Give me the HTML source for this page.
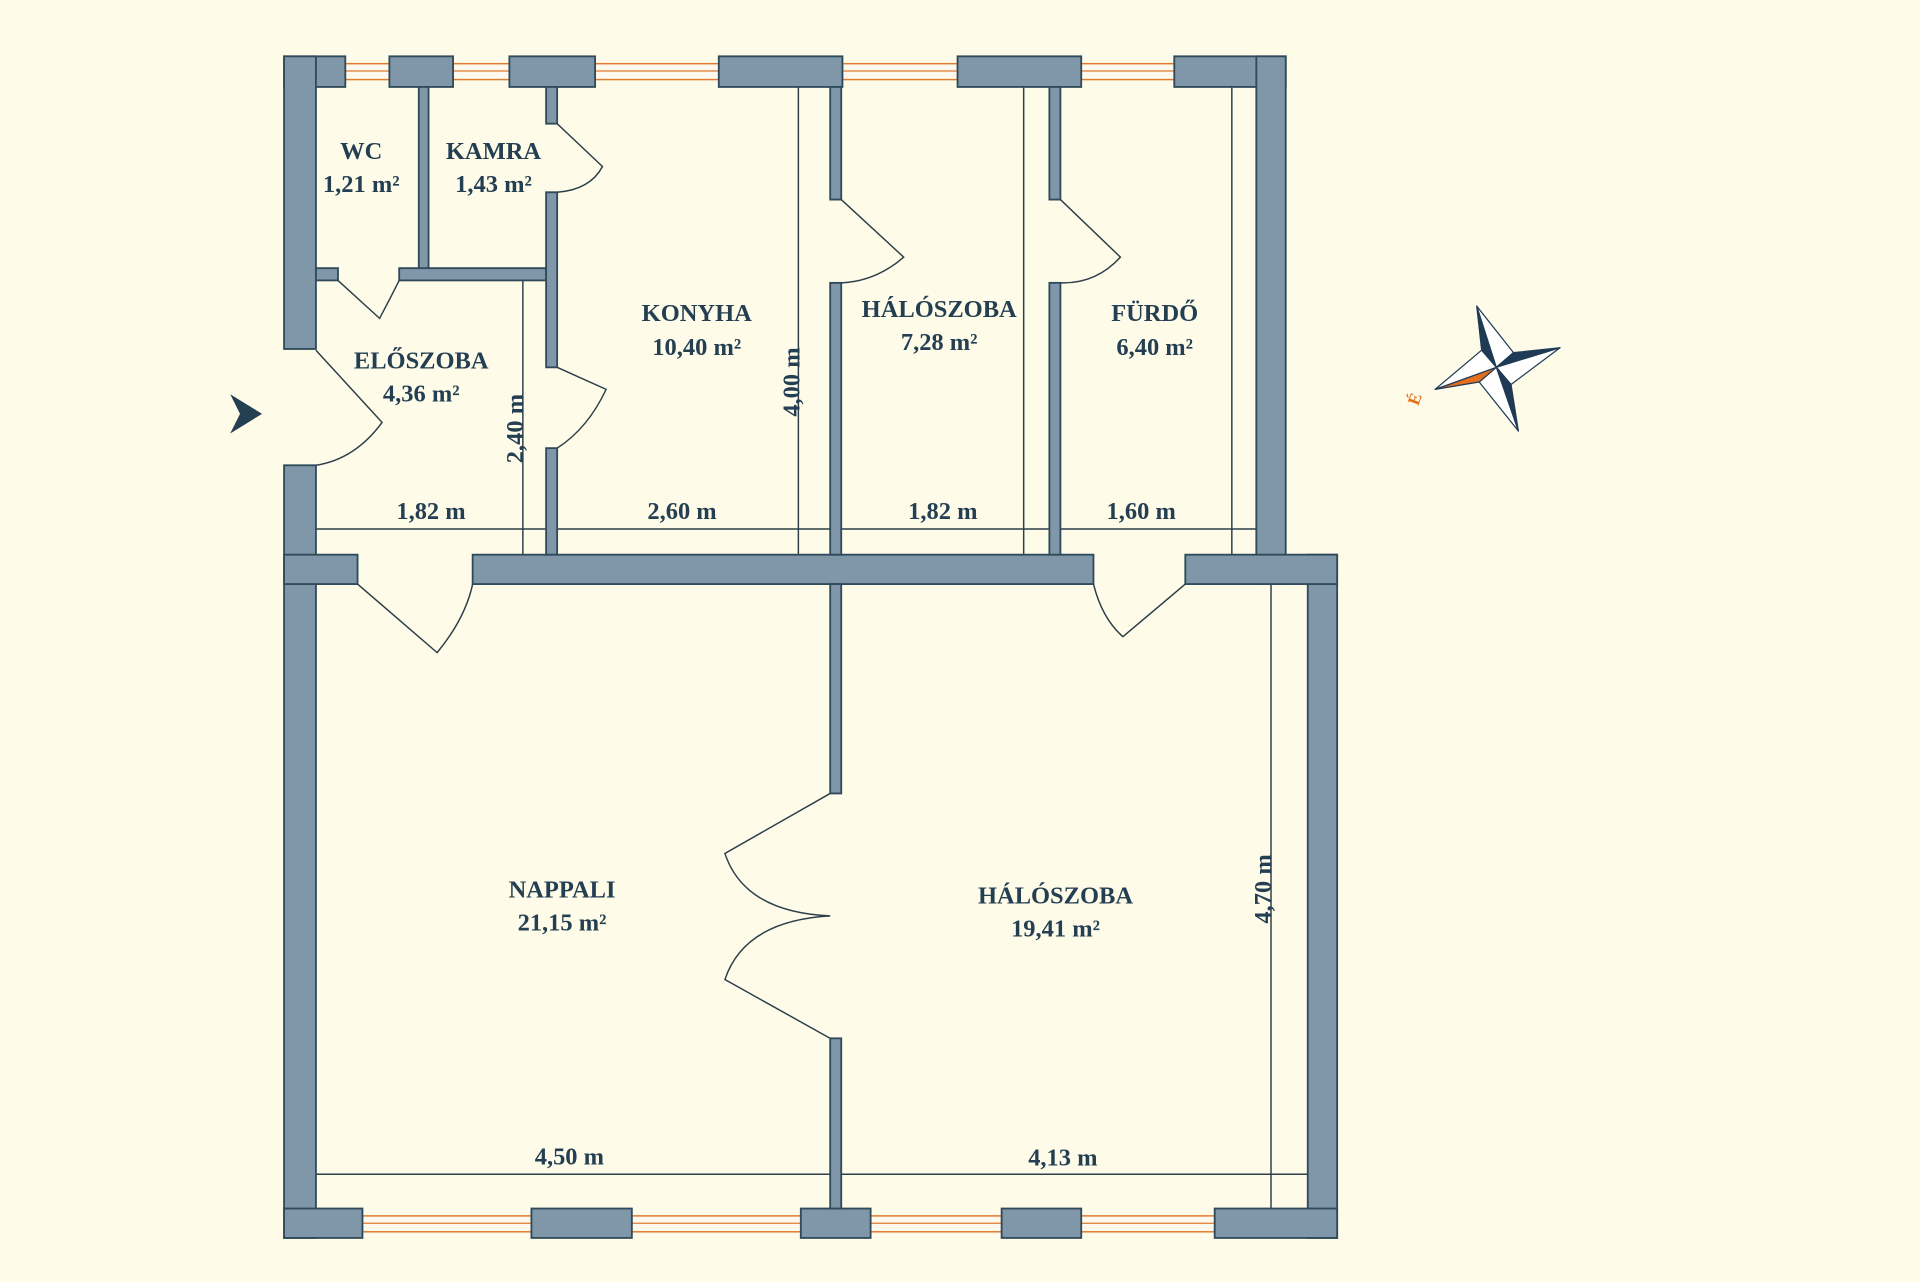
<!DOCTYPE html>
<html><head><meta charset="utf-8"><style>
html,body{margin:0;padding:0;background:#fefbe9;}
svg{display:block}
text{font-family:"Liberation Serif",serif;font-weight:bold;fill:#243f52;font-size:20px;text-anchor:middle}
.w{fill:#7f97a8;stroke:#2f4a5a;stroke-width:1.5}
.d{fill:none;stroke:#2c3f4a;stroke-width:1.2}
.win{fill:#fff8ec;stroke:#e07a2e;stroke-width:1.2}
</style></head><body>
<svg width="1920" height="1282" viewBox="0 0 1568 1047" preserveAspectRatio="none">
<rect width="1568" height="1047" fill="#fefbe9"/>
<g class="win">
<rect x="282" y="52" width="36" height="13"/><rect x="370" y="52" width="46" height="13"/><rect x="486" y="52" width="101" height="13"/><rect x="688" y="52" width="94" height="13"/><rect x="883" y="52" width="76" height="13"/>
<rect x="296" y="993" width="138" height="13"/><rect x="516" y="993" width="138" height="13"/><rect x="711" y="993" width="107" height="13"/><rect x="883" y="993" width="109" height="13"/>
</g>
<g stroke="#e07a2e" stroke-width="1">
<line x1="282" y1="58" x2="959" y2="58"/><line x1="296" y1="999" x2="992" y2="999"/>
</g>
<g stroke="#2c3f4a" stroke-width="1.2">
<line x1="258" y1="432" x2="1026" y2="432"/>
<line x1="427" y1="229" x2="427" y2="453"/>
<line x1="652" y1="71" x2="652" y2="453"/>
<line x1="836" y1="71" x2="836" y2="453"/>
<line x1="1006" y1="71" x2="1006" y2="453"/>
<line x1="1038" y1="477" x2="1038" y2="987"/>
<line x1="258" y1="959" x2="1068" y2="959"/>
</g>
<g class="w">
<rect x="232" y="46" width="50" height="25"/><rect x="318" y="46" width="52" height="25"/><rect x="416" y="46" width="70" height="25"/><rect x="587" y="46" width="101" height="25"/><rect x="782" y="46" width="101" height="25"/><rect x="959" y="46" width="91" height="25"/>
<rect x="232" y="46" width="26" height="239"/><rect x="232" y="380" width="26" height="631"/>
<rect x="1026" y="46" width="24" height="431"/>
<rect x="1068" y="453" width="24" height="558"/>
<rect x="232" y="987" width="64" height="24"/><rect x="434" y="987" width="82" height="24"/><rect x="654" y="987" width="57" height="24"/><rect x="818" y="987" width="65" height="24"/><rect x="992" y="987" width="100" height="24"/>
<rect x="232" y="453" width="60" height="24"/><rect x="386" y="453" width="507" height="24"/><rect x="968" y="453" width="124" height="24"/>
<rect x="678" y="71" width="9" height="92"/><rect x="678" y="231" width="9" height="222"/>
<rect x="678" y="477" width="9" height="171"/><rect x="678" y="848" width="9" height="139"/>
<rect x="857" y="71" width="9" height="92"/><rect x="857" y="231" width="9" height="222"/>
<rect x="342" y="71" width="8" height="150"/>
<rect x="326" y="219" width="120" height="10"/><rect x="258" y="219" width="18" height="10"/>
<rect x="446" y="71" width="9" height="30"/><rect x="446" y="157" width="9" height="143"/><rect x="446" y="366" width="9" height="87"/>
</g>
<g class="d">
<path d="M455 101 L492 136 Q482 155 455 157"/>
<path d="M455 300 L495 318 Q480 350 455 366"/>
<path d="M276 229 L310 260 Q318 245 326 229"/>
<path d="M258 286 L312 345 Q290 375 258 380"/>
<path d="M292 477 L357 533 Q380 505 386 477"/>
<path d="M687 163 L738 210 Q715 230 687 231"/>
<path d="M866 163 L915 210 Q895 232 866 231"/>
<path d="M893 477 Q900 505 917 520 L968 477"/>
<path d="M678 648 L592 697 Q608 745 678 748 Q608 752 592 800 L678 848"/>
</g>
<path d="M188 322 L214 338 L188 354 L196 338 Z" fill="#243f52"/>
<g stroke="#1f3a55" stroke-width="1" stroke-linejoin="round">
<path d="M1206 250 L1222 300 L1210 286 Z" fill="#1f3a55"/>
<path d="M1206 250 L1222 300 L1236 288 Z" fill="#fff"/>
<path d="M1274 284 L1222 300 L1236 288 Z" fill="#1f3a55"/>
<path d="M1274 284 L1222 300 L1234 314 Z" fill="#fff"/>
<path d="M1240 352 L1222 300 L1234 314 Z" fill="#1f3a55"/>
<path d="M1240 352 L1222 300 L1208 312 Z" fill="#fff"/>
<path d="M1172 318 L1222 300 L1208 312 Z" fill="#e36f1e"/>
<path d="M1172 318 L1222 300 L1210 286 Z" fill="#fff"/>
</g>
<text x="1156" y="330" style="fill:#e36f1e;font-size:14px" transform="rotate(-70 1156 326)">É</text>
<text x="295" y="130">WC</text><text x="295" y="157">1,21 m²</text>
<text x="403" y="130">KAMRA</text><text x="403" y="157">1,43 m²</text>
<text x="569" y="262">KONYHA</text><text x="569" y="290">10,40 m²</text>
<text x="767" y="259">HÁLÓSZOBA</text><text x="767" y="286">7,28 m²</text>
<text x="943" y="262">FÜRDŐ</text><text x="943" y="290">6,40 m²</text>
<text x="344" y="301">ELŐSZOBA</text><text x="344" y="328">4,36 m²</text>
<text x="459" y="733">NAPPALI</text><text x="459" y="760">21,15 m²</text>
<text x="862" y="738">HÁLÓSZOBA</text><text x="862" y="765">19,41 m²</text>
<text x="352" y="424">1,82 m</text><text x="557" y="424">2,60 m</text><text x="770" y="424">1,82 m</text><text x="932" y="424">1,60 m</text>
<text x="465" y="951">4,50 m</text><text x="868" y="952">4,13 m</text>
<text x="0" y="0" transform="translate(427,350) rotate(-90)">2,40 m</text>
<text x="0" y="0" transform="translate(653,312) rotate(-90)">4,00 m</text>
<text x="0" y="0" transform="translate(1038,726) rotate(-90)">4,70 m</text>
</svg>
</body></html>
